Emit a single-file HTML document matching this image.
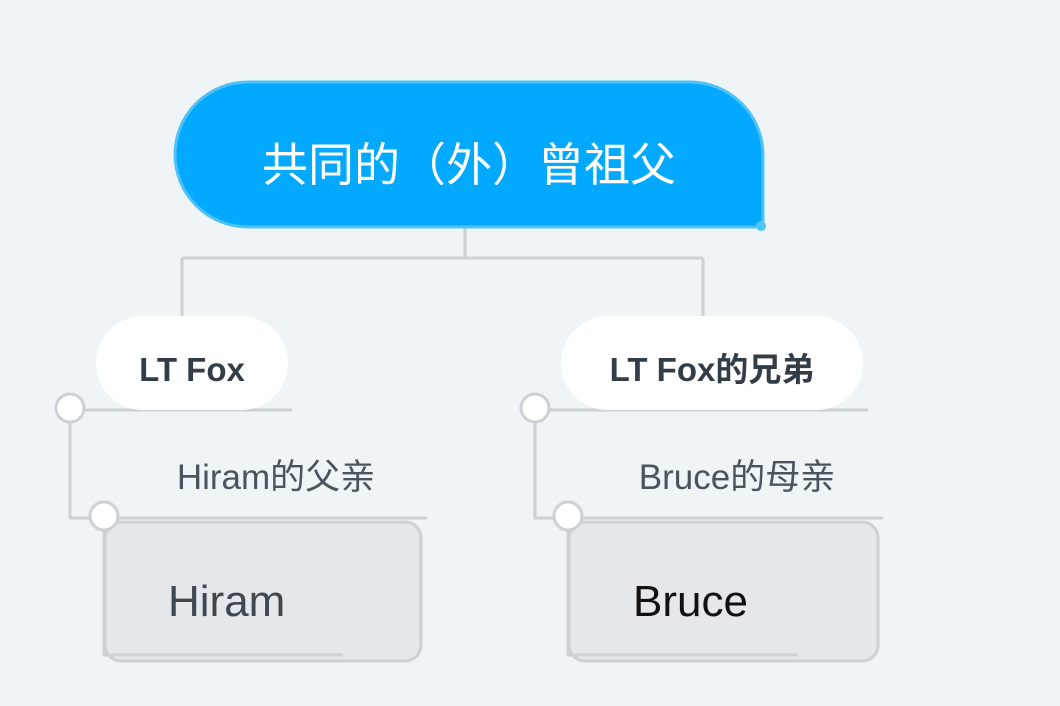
<!DOCTYPE html>
<html><head><meta charset="utf-8"><style>
html,body{margin:0;padding:0;background:#eff4f7;}
svg{display:block}
text{font-family:"Liberation Sans","Noto Sans CJK SC",sans-serif;}
</style></head><body>
<svg width="1060" height="706" viewBox="0 0 1060 706" xmlns="http://www.w3.org/2000/svg">
<rect width="1060" height="706" fill="#eff4f7"/>
<g fill="none" stroke="#ccd1d5" stroke-width="3">
<path d="M465 228 V258 M182 258 H703 M182 258 V318 M703 258 V318"/>
<path d="M60 410 H292 M70 410 V518 H427"/>
<path d="M525 410 H868 M535 410 V518 H883"/>
<path d="M104 518 V655 H343 M568 518 V655 H798"/>
</g>
<path d="M248 82 H690 A73 73 0 0 1 763 155 V227 H248 A73 72.5 0 0 1 248 82 Z" fill="#02a9fe" stroke="#4fc3f7" stroke-width="3"/>
<circle cx="761" cy="226" r="5" fill="#4fc3f7"/>
<text x="469" y="181" font-size="46" fill="#fff" text-anchor="middle">共同的（外）曾祖父</text>
<rect x="96" y="316" width="192" height="94" rx="47" fill="#fff"/>
<text x="192" y="381" font-size="33" font-weight="bold" fill="#333d47" text-anchor="middle">LT Fox</text>
<rect x="561" y="316" width="302" height="94" rx="47" fill="#fff"/>
<text x="712" y="381" font-size="33" font-weight="bold" fill="#333d47" text-anchor="middle">LT Fox的兄弟</text>
<text x="276" y="489" font-size="35" fill="#4a545e" text-anchor="middle">Hiram的父亲</text>
<text x="737" y="489" font-size="35" fill="#4a545e" text-anchor="middle">Bruce的母亲</text>
<rect x="105" y="522" width="316" height="139" rx="16" fill="#e4e8eb" stroke="#ccd1d5" stroke-width="3"/>
<rect x="569" y="522" width="309" height="139" rx="16" fill="#e4e8eb" stroke="#ccd1d5" stroke-width="3"/>
<path d="M104 655 H343 M568 655 H798" stroke="#ccd1d5" stroke-width="3"/>
<text x="168" y="616" font-size="44" fill="#3e4851">Hiram</text>
<text x="633" y="616" font-size="44" fill="#111">Bruce</text>
<g fill="#fff" stroke="#ccd1d5" stroke-width="3">
<circle cx="70" cy="408" r="14"/><circle cx="104" cy="516" r="14"/>
<circle cx="535" cy="408" r="14"/><circle cx="568" cy="516" r="14"/>
</g>
</svg>
</body></html>
